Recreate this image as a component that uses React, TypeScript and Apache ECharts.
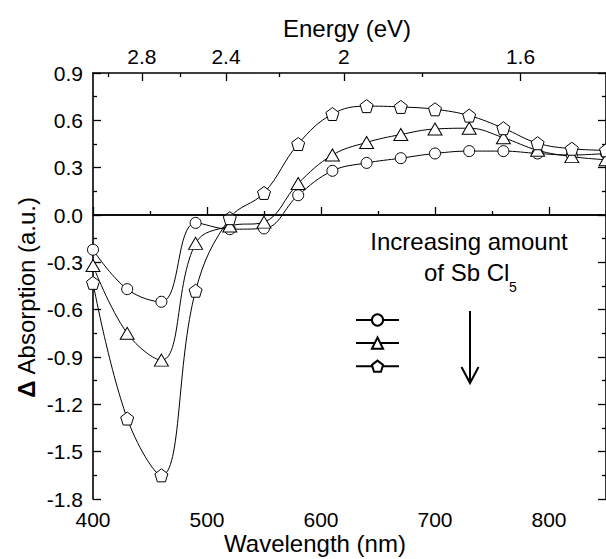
import React, { useEffect, useRef } from "react";
import * as echarts from "echarts";

// Wavelength (nm) of every measured point
const wavelengths = [400, 430, 460, 490, 520, 550, 580, 610, 640, 670, 700, 730, 760, 790, 820, 850];
// Δ Absorption for increasing amounts of SbCl5
const lowAmount = [-0.22, -0.47, -0.55, -0.05, -0.09, -0.085, 0.125, 0.28, 0.33, 0.36, 0.39, 0.405, 0.405, 0.39, 0.38, 0.39];
const midAmount = [-0.32, -0.75, -0.92, -0.18, -0.07, -0.045, 0.2, 0.38, 0.46, 0.51, 0.545, 0.55, 0.49, 0.41, 0.37, 0.35];
const highAmount = [-0.43, -1.29, -1.65, -0.48, -0.02, 0.14, 0.45, 0.64, 0.69, 0.685, 0.67, 0.63, 0.55, 0.455, 0.42, 0.41];
const seriesNames = ["Low SbCl5", "Medium SbCl5", "High SbCl5"];

// Axis ticks
const wlMajor = [400, 500, 600, 700, 800];
const wlMinor = [450, 550, 650, 750, 850];
const energyMajor = [2.8, 2.4, 2.0, 1.6];
const energyMinor = [3.0, 2.6, 2.2, 1.8];
const HC = 1240; // eV·nm

const FONT = "'Liberation Sans', Arial, Helvetica, sans-serif";
const PENTAGON = "path://M0,-1 L0.951,-0.309 L0.588,0.809 L-0.588,0.809 L-0.951,-0.309 Z";

export default function App() {
  const ref = useRef<HTMLDivElement>(null);
  useEffect(() => {
    if (!ref.current) return;
    const chart = echarts.init(ref.current, null, { renderer: "svg" });
    const pairs = (vals: number[]) => wavelengths.map((w, i) => [w, vals[i]]);
    const axisLine = { show: true, lineStyle: { color: "#000", width: 1.6 } };
    const tickStyle = { color: "#000", width: 1.3 };
    const mkSeries = (name: string, vals: number[], symbol: string, size: any, extra: any = {}) => ({
      name,
      type: "line",
      xAxisIndex: 0,
      yAxisIndex: 0,
      data: pairs(vals),
      smooth: 0.4,
      symbol,
      symbolSize: size,
      showAllSymbol: true,
      lineStyle: { color: "#000", width: 1 },
      itemStyle: { color: "#fff", borderColor: "#000", borderWidth: 1 },
      emphasis: { disabled: true },
      ...extra,
    });
    chart.setOption({
      animation: false,
      backgroundColor: "#fff",
      textStyle: { fontFamily: FONT },
      grid: { left: 93, right: -3, top: 73, bottom: 60, containLabel: false },
      legend: {
        show: true,
        orient: "vertical",
        left: 355,
        top: 313,
        padding: 0,
        itemWidth: 43,
        itemHeight: 14,
        itemGap: 9.5,
        formatter: () => "",
        selectedMode: false,
        data: seriesNames,
      },
      xAxis: [
        {
          type: "value",
          position: "bottom",
          min: 400,
          max: 850,
          axisLine,
          axisTick: { show: true, inside: true, length: 8, lineStyle: tickStyle, customValues: wlMajor },
          axisLabel: { customValues: wlMajor, fontSize: 21, color: "#000", margin: 10, fontFamily: FONT },
          splitLine: { show: false },
        },
        {
          type: "value",
          position: "bottom",
          min: 400,
          max: 850,
          axisLine: { show: false },
          axisTick: { show: true, inside: true, length: 4, lineStyle: tickStyle, customValues: wlMinor },
          axisLabel: { show: false },
          splitLine: { show: false },
        },
        {
          type: "value",
          position: "top",
          min: 400,
          max: 850,
          axisLine,
          axisTick: { show: true, inside: true, length: 8, lineStyle: tickStyle, customValues: energyMajor.map((e) => HC / e) },
          axisLabel: {
            customValues: energyMajor.map((e) => HC / e),
            formatter: (v: number) => String(Math.round((HC / v) * 10) / 10),
            fontSize: 21,
            color: "#000",
            margin: 6,
            fontFamily: FONT,
          },
          splitLine: { show: false },
        },
        {
          type: "value",
          position: "top",
          min: 400,
          max: 850,
          axisLine: { show: false },
          axisTick: { show: true, inside: true, length: 4, lineStyle: tickStyle, customValues: energyMinor.map((e) => HC / e) },
          axisLabel: { show: false },
          splitLine: { show: false },
        },
      ],
      yAxis: [
        {
          type: "value",
          position: "left",
          min: -1.8,
          max: 0.9,
          interval: 0.3,
          axisLine,
          axisTick: { show: true, inside: true, length: 8, lineStyle: tickStyle },
          minorTick: { show: true, splitNumber: 2, length: 4, lineStyle: tickStyle },
          axisLabel: {
            formatter: (v: number) => v.toFixed(1),
            fontSize: 21,
            color: "#000",
            margin: 10,
            fontFamily: FONT,
          },
          splitLine: { show: false },
        },
        {
          type: "value",
          position: "right",
          min: -1.8,
          max: 0.9,
          interval: 0.3,
          axisLine,
          axisTick: { show: true, inside: true, length: 8, lineStyle: tickStyle },
          minorTick: { show: true, splitNumber: 2, length: 4, lineStyle: tickStyle },
          axisLabel: { show: false },
          splitLine: { show: false },
        },
      ],
      series: [
        mkSeries(seriesNames[0], lowAmount, "circle", 11, {
          markLine: {
            silent: true,
            symbol: "none",
            label: { show: false },
            lineStyle: { color: "#000", width: 1.6, type: "solid" },
            data: [{ yAxis: 0 }],
          },
        }),
        mkSeries(seriesNames[1], midAmount, "triangle", [14, 12]),
        mkSeries(seriesNames[2], highAmount, PENTAGON, 13),
      ],
      graphic: [
        {
          type: "text",
          x: 347,
          y: 28,
          style: { text: "Energy (eV)", font: `24px ${FONT}`, fill: "#000", textAlign: "center", textVerticalAlign: "middle" },
        },
        {
          type: "text",
          x: 315,
          y: 543,
          style: { text: "Wavelength (nm)", font: `24px ${FONT}`, fill: "#000", textAlign: "center", textVerticalAlign: "middle" },
        },
        {
          type: "text",
          x: 26,
          y: 297,
          rotation: Math.PI / 2,
          style: {
            text: "{b|Δ} Absorption (a.u.)",
            fill: "#000",
            textAlign: "center",
            textVerticalAlign: "middle",
            font: `24px ${FONT}`,
            rich: {
              b: { fontWeight: "bold", fontSize: 24, fontFamily: FONT, fill: "#000" },
            },
          },
        },
        {
          type: "text",
          x: 469,
          y: 241,
          style: { text: "Increasing amount", font: `24px ${FONT}`, fill: "#000", textAlign: "center", textVerticalAlign: "middle" },
        },
        {
          type: "text",
          x: 424,
          y: 272,
          style: { text: "of Sb Cl", font: `24px ${FONT}`, fill: "#000", textAlign: "left", textVerticalAlign: "middle" },
        },
        {
          type: "text",
          x: 509,
          y: 287,
          style: { text: "5", font: `14px ${FONT}`, fill: "#000", textAlign: "left", textVerticalAlign: "middle" },
        },
        {
          type: "line",
          shape: { x1: 470, y1: 311, x2: 470, y2: 382 },
          style: { stroke: "#000", lineWidth: 2 },
        },
        {
          type: "polyline",
          shape: { points: [[461.5, 367], [470, 383], [478.5, 367]] },
          style: { stroke: "#000", lineWidth: 2, fill: null },
        },
      ],
    });
    return () => chart.dispose();
  }, []);
  return <div ref={ref} style={{ position: "fixed", left: 0, top: 0, width: 606, height: 559 }} />;
}
